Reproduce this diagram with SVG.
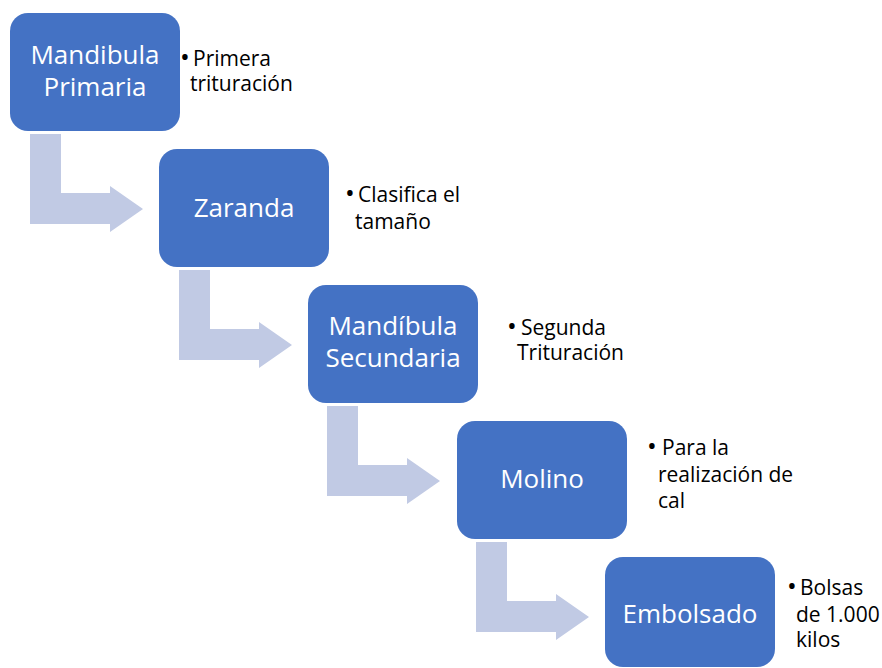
<svg xmlns="http://www.w3.org/2000/svg" width="882" height="668" viewBox="0 0 882 668">
<defs>
<style>
.box{fill:#4472C4;}
.bt{fill:#FFFFFF;font-family:"Open Sans","Noto Sans","DejaVu Sans",sans-serif;font-size:26px;text-anchor:middle;}
.nt{fill:#000000;font-family:"Open Sans","Noto Sans","DejaVu Sans",sans-serif;font-size:21px;}
.bul{font-size:26px;}
.arr{fill:#C1CAE4;}
</style>
<path id="arrowShape" d="M0,0 H31 V59 H80 V52 L113,75 L80,98 V90 H0 Z"/>
</defs>
<rect width="882" height="668" fill="#FFFFFF"/>
<g id="connectors">
<use href="#arrowShape" class="arr" x="30" y="134"/>
<use href="#arrowShape" class="arr" x="179" y="270"/>
<use href="#arrowShape" class="arr" x="327" y="406"/>
<use href="#arrowShape" class="arr" x="476" y="542"/>
</g>
<g id="node1">
<rect class="box" x="10" y="13" width="170" height="118" rx="18"/>
<text class="bt" x="95" y="64">Mandibula</text>
<text class="bt" x="95" y="96">Primaria</text>
<text class="nt" y="66"><tspan class="bul" x="180">•</tspan><tspan x="193">Primera</tspan></text>
<text class="nt" x="190" y="91">trituración</text>
</g>
<g id="node2">
<rect class="box" x="159" y="149" width="170" height="118" rx="18"/>
<text class="bt" x="244" y="217">Zaranda</text>
<text class="nt" y="202"><tspan class="bul" x="345">•</tspan><tspan x="358">Clasifica el</tspan></text>
<text class="nt" x="355" y="229">tamaño</text>
</g>
<g id="node3">
<rect class="box" x="308" y="285" width="170" height="118" rx="18"/>
<text class="bt" x="393" y="335">Mandíbula</text>
<text class="bt" x="393" y="367">Secundaria</text>
<text class="nt" y="335"><tspan class="bul" x="507">•</tspan><tspan x="521">Segunda</tspan></text>
<text class="nt" x="517" y="360">Trituración</text>
</g>
<g id="node4">
<rect class="box" x="457" y="421" width="170" height="118" rx="18"/>
<text class="bt" x="542" y="488">Molino</text>
<text class="nt" y="455"><tspan class="bul" x="647">•</tspan><tspan x="662">Para la</tspan></text>
<text class="nt" x="658" y="482">realización de</text>
<text class="nt" x="658" y="508">cal</text>
</g>
<g id="node5">
<rect class="box" x="605" y="557" width="170" height="110" rx="18"/>
<text class="bt" x="690" y="623">Embolsado</text>
<text class="nt" y="595"><tspan class="bul" x="787">•</tspan><tspan x="800">Bolsas</tspan></text>
<text class="nt" x="796" y="622">de 1.000</text>
<text class="nt" x="796" y="647">kilos</text>
</g>
</svg>
